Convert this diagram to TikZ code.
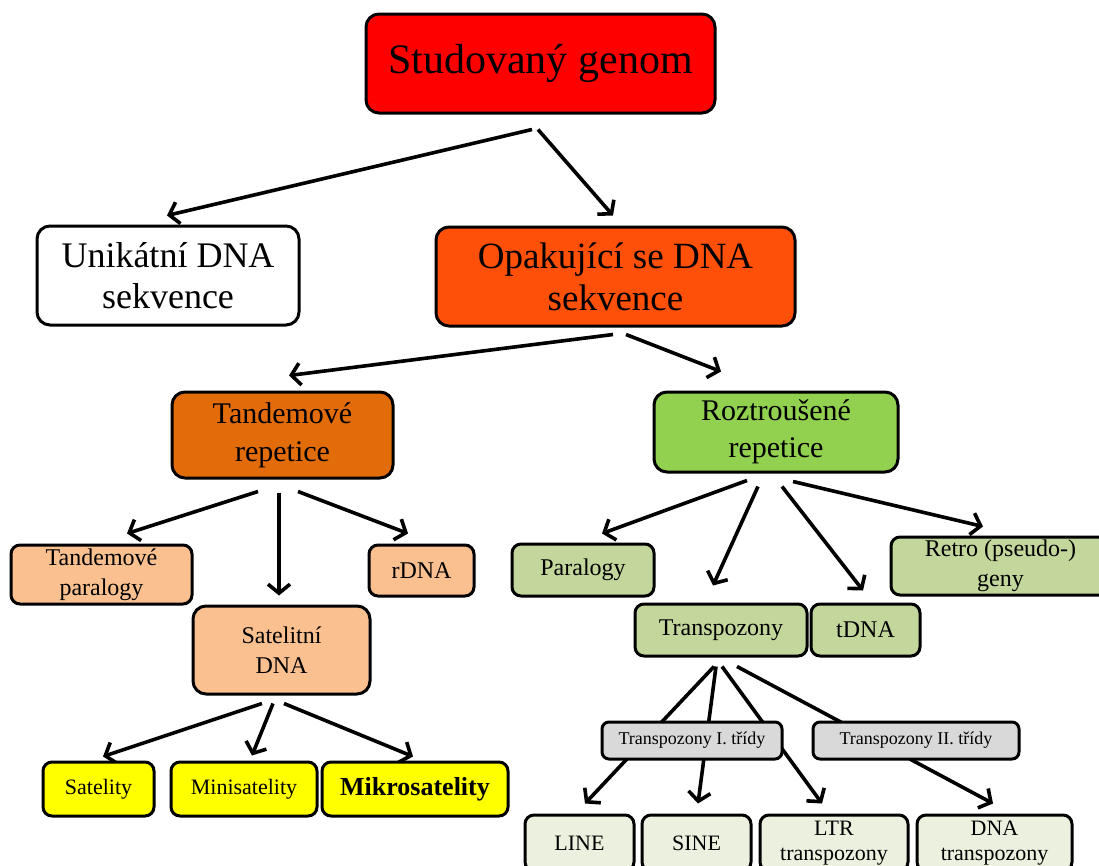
\documentclass[tikz,border=0pt]{standalone}
\usepackage{fontspec}
\setmainfont{Liberation Serif}
\usetikzlibrary{arrows.meta,backgrounds}
\definecolor{cRed}{HTML}{FF0000}
\definecolor{cOpa}{HTML}{FF500A}
\definecolor{cTan}{HTML}{E36C0A}
\definecolor{cRoz}{HTML}{92D050}
\definecolor{cLOr}{HTML}{FAC090}
\definecolor{cYel}{HTML}{FFFF00}
\definecolor{cLGr}{HTML}{C3D69B}
\definecolor{cGry}{HTML}{D9D9D9}
\definecolor{cVLG}{HTML}{EBF1DE}
\begin{document}
\begin{tikzpicture}[x=1pt,y=-1pt,
  box/.style={draw=black, line width=3pt, rounded corners=13pt, inner sep=0pt, align=center, text=black},
  sbox/.style={box, rounded corners=9pt},
  arr/.style={line width=3.6pt, -{Straight Barb[length=9pt,width=22pt]}},
]
\useasboundingbox (0,0) rectangle (1099,865);

% level 0-2
\node[box, fill=cRed, minimum width=349pt, minimum height=99pt, font=\fontsize{42}{48}\selectfont] (gen) at (540.5,63.5) {Studovaný genom};
\node[box, fill=white, minimum width=262pt, minimum height=99pt, font=\fontsize{36}{41}\selectfont] (uni) at (168,275.5) {Unikátní DNA\\sekvence};
\node[box, fill=cOpa, minimum width=359pt, minimum height=99pt, font=\fontsize{37}{42}\selectfont] (opa) at (615.5,276.5) {Opakující se DNA\\sekvence};
\node[box, fill=cTan, minimum width=221pt, minimum height=86pt, font=\fontsize{30}{38}\selectfont] (tan) at (282.5,435) {Tandemové\\repetice};
\node[box, fill=cRoz, minimum width=244pt, minimum height=80pt, font=\fontsize{30}{37}\selectfont] (roz) at (776,432) {Roztroušené\\repetice};

% tandem branch
\node[sbox, fill=cLOr, minimum width=181pt, minimum height=59pt, font=\fontsize{24}{30}\selectfont] (tpar) at (101.5,574.5) {Tandemové\\paralogy};
\node[sbox, fill=cLOr, minimum width=105pt, minimum height=51pt, font=\fontsize{24}{30}\selectfont] (rdna) at (421.5,570.5) {rDNA};
\node[box, fill=cLOr, minimum width=177pt, minimum height=88pt, font=\fontsize{24}{30}\selectfont] (sat) at (281.5,650) {Satelitní\\DNA};
\node[sbox, fill=cYel, minimum width=111pt, minimum height=54pt, font=\fontsize{22}{26}\selectfont] (s1) at (98.5,789) {Satelity};
\node[sbox, fill=cYel, minimum width=146pt, minimum height=54pt, font=\fontsize{22}{26}\selectfont] (s2) at (244,789) {Minisatelity};
\node[sbox, fill=cYel, minimum width=186pt, minimum height=54pt, font=\fontsize{26}{30}\selectfont\bfseries] (s3) at (415,789) {Mikrosatelity};

% interspersed branch
\node[sbox, fill=cLGr, minimum width=142pt, minimum height=52pt, font=\fontsize{24}{30}\selectfont] (par) at (583,570) {Paralogy};
\node[sbox, fill=cLGr, minimum width=172pt, minimum height=52pt, font=\fontsize{24}{30}\selectfont] (trn) at (721,630) {Transpozony};
\node[sbox, fill=cLGr, minimum width=109pt, minimum height=52pt, font=\fontsize{24}{30}\selectfont] (tdna) at (865.5,630) {tDNA};
\node[sbox, fill=cLGr, minimum width=219pt, minimum height=58pt, font=\fontsize{24}{30}\selectfont] (retro) at (1000.5,566) {Retro (pseudo-)\\geny};
\node[sbox, fill=cGry, rounded corners=7pt, minimum width=180pt, minimum height=37pt, font=\fontsize{18}{22}\selectfont] (t1) at (692,740.5) {Transpozony I. třídy};
\node[sbox, fill=cGry, rounded corners=7pt, minimum width=206pt, minimum height=37pt, font=\fontsize{18}{22}\selectfont] (t2) at (916,740.5) {Transpozony II. třídy};
\node[sbox, fill=cVLG, minimum width=109pt, minimum height=56pt, font=\fontsize{22}{25}\selectfont] (line) at (579.5,843) {LINE};
\node[sbox, fill=cVLG, minimum width=109pt, minimum height=56pt, font=\fontsize{22}{25}\selectfont] (sine) at (696.5,843) {SINE};
\node[sbox, fill=cVLG, minimum width=148pt, minimum height=56pt, font=\fontsize{22}{25}\selectfont] (ltr) at (834,843) {LTR\\transpozony};
\node[sbox, fill=cVLG, minimum width=155pt, minimum height=56pt, font=\fontsize{22}{25}\selectfont] (dnat) at (994.5,843) {DNA\\transpozony};

\begin{scope}[on background layer]
\draw[arr] ([shift={(-8.5,15)}]gen.south) -- ([shift={(-1,-9)}]uni.north);
\draw[arr] ([shift={(-2.5,15)}]gen.south) -- ([shift={(-2.5,-10)}]opa.north);
\draw[arr] ([shift={(-2.5,7)}]opa.south) -- ([shift={(6.5,-15)}]tan.north);
\draw[arr] ([shift={(10.5,7)}]opa.south) -- ([shift={(-55,-19)}]roz.north);
\draw[arr] ([shift={(-24.5,12)}]tan.south) -- ([shift={(25.5,-10)}]tpar.north);
\draw[arr] ([shift={(-3.5,13)}]tan.south) -- ([shift={(-2.5,-9)}]sat.north);
\draw[arr] ([shift={(15.5,12)}]tan.south) -- ([shift={(-13.5,-10)}]rdna.north);
\draw[arr] ([shift={(-19.5,8)}]sat.south) -- ([shift={(4.5,-4)}]s1.north);
\draw[arr] ([shift={(-8.5,8)}]sat.south) -- ([shift={(8,-5)}]s2.north);
\draw[arr] ([shift={(2.5,8)}]sat.south) -- ([shift={(-2,-4)}]s3.north);
\draw[arr] ([shift={(-29,7)}]roz.south) -- ([shift={(19,-9)}]par.north);
\draw[arr] ([shift={(-18,13)}]roz.south) -- ([shift={(-8,-17)}]trn.north);
\draw[arr] ([shift={(6,13)}]roz.south) -- ([shift={(-2.5,-12)}]tdna.north);
\draw[arr] ([shift={(17,8)}]roz.south) -- ([shift={(-17.5,-9)}]retro.north);
\draw[arr] ([shift={(-7,9)}]trn.south) -- ([shift={(5.5,-10)}]line.north);
\draw[arr] ([shift={(-5,9)}]trn.south) -- ([shift={(1.5,-10)}]sine.north);
\draw[arr] ([shift={(1,9)}]trn.south) -- ([shift={(-12,-10)}]ltr.north);
\draw[arr] ([shift={(16,9)}]trn.south) -- ([shift={(-1.5,-10)}]dnat.north);
\end{scope}
\end{tikzpicture}
\end{document}
